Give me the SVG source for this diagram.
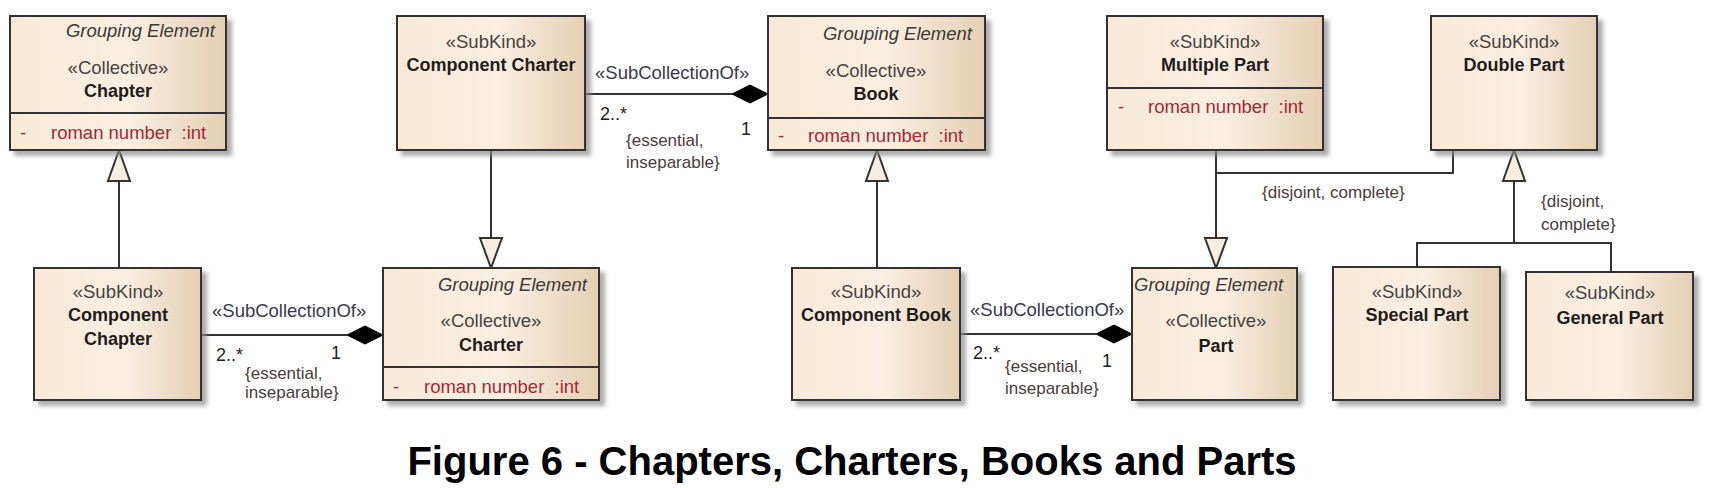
<svg xmlns="http://www.w3.org/2000/svg" width="1711" height="488" viewBox="0 0 1711 488">
<defs>
<linearGradient id="g" x1="0" y1="0" x2="1" y2="0">
<stop offset="0" stop-color="#f8ead7"/>
<stop offset="0.55" stop-color="#faefe1"/>
<stop offset="1" stop-color="#e4d0b3"/>
</linearGradient>
<filter id="sh" x="-10%" y="-10%" width="130%" height="130%">
<feDropShadow dx="5" dy="5" stdDeviation="2" flood-color="#8a8a8a" flood-opacity="0.7"/>
</filter>
</defs>
<style>
.box{fill:url(#g);stroke:#333;stroke-width:2;filter:url(#sh)}
.sep{stroke:#333;stroke-width:2}
text{font-family:'Liberation Sans',Arial,sans-serif}
.st{font-size:18.5px;fill:#444;text-anchor:middle}
.nm{font-size:18px;font-weight:bold;fill:#1e1e1e;text-anchor:middle}
.ge{font-size:18.5px;font-style:italic;fill:#3a3a3a}
.at{font-size:18.5px;fill:#a52834;white-space:pre}
.lbl{font-size:18.5px;fill:#3a3a4a}
.mul{font-size:18px;fill:#222}
.c{font-size:17px;fill:#4a3c3c}
.ln{stroke:#333;stroke-width:2;fill:none}
.tri{fill:#f6eee0;stroke:#333;stroke-width:2}
.dia{fill:#000;stroke:#000;stroke-width:1}
.cap{font-size:40px;font-weight:bold;fill:#000;text-anchor:middle}
</style>
<rect width="1711" height="488" fill="#fff"/>

<g id="connectors">
<!-- generalizations -->
<line class="ln" x1="119" y1="181" x2="119" y2="268"/>
<polygon class="tri" points="119,150 108,181 130,181"/>
<line class="ln" x1="491" y1="150" x2="491" y2="238"/>
<polygon class="tri" points="491,268 480,238 502,238"/>
<line class="ln" x1="877" y1="181" x2="877" y2="268"/>
<polygon class="tri" points="877,150 866,181 888,181"/>
<polyline class="ln" points="1453,150 1453,173 1216,173"/>
<line class="ln" x1="1216" y1="150" x2="1216" y2="238"/>
<polygon class="tri" points="1216,268 1205,238 1227,238"/>
<line class="ln" x1="1514" y1="181" x2="1514" y2="243"/>
<polyline class="ln" points="1417,267 1417,243 1611,243 1611,272"/>
<polygon class="tri" points="1514,150 1503,181 1525,181"/>
<!-- compositions -->
<line class="ln" x1="201" y1="335" x2="347" y2="335"/>
<polygon class="dia" points="383,335 365,326 347,335 365,344"/>
<line class="ln" x1="585" y1="94" x2="732" y2="94"/>
<polygon class="dia" points="768,94 750,85 732,94 750,103"/>
<line class="ln" x1="960" y1="334" x2="1096" y2="334"/>
<polygon class="dia" points="1132,334 1114,325 1096,334 1114,343"/>
<!-- labels -->
<text class="lbl" x="212" y="317">«SubCollectionOf»</text>
<text class="mul" x="216" y="361">2..*</text>
<text class="mul" x="331" y="359">1</text>
<text class="c" x="245" y="379">{essential,</text>
<text class="c" x="245" y="398">inseparable}</text>

<text class="lbl" x="595" y="79">«SubCollectionOf»</text>
<text class="mul" x="600" y="120">2..*</text>
<text class="mul" x="741" y="135">1</text>
<text class="c" x="626" y="146">{essential,</text>
<text class="c" x="626" y="168">inseparable}</text>

<text class="lbl" x="970" y="316">«SubCollectionOf»</text>
<text class="mul" x="973" y="359">2..*</text>
<text class="mul" x="1102" y="367">1</text>
<text class="c" x="1005" y="372">{essential,</text>
<text class="c" x="1005" y="394">inseparable}</text>

<text class="c" x="1262" y="198">{disjoint, complete}</text>
<text class="c" x="1541" y="207">{disjoint,</text>
<text class="c" x="1541" y="230">complete}</text>
</g>

<g id="chapter">
<rect class="box" x="10" y="16" width="216" height="134"/>
<line class="sep" x1="10" y1="113" x2="226" y2="113"/>
<text class="ge" x="215" y="37" text-anchor="end">Grouping Element</text>
<text class="st" x="118" y="74">«Collective»</text>
<text class="nm" x="118" y="97">Chapter</text>
<text class="at" x="20" y="139">-</text>
<text class="at" x="51" y="139">roman number  :int</text>
</g>

<g id="component-chapter">
<rect class="box" x="34" y="268" width="167" height="132"/>
<text class="st" x="118" y="298">«SubKind»</text>
<text class="nm" x="118" y="321">Component</text>
<text class="nm" x="118" y="345">Chapter</text>
</g>

<g id="charter">
<rect class="box" x="383" y="268" width="216" height="132"/>
<line class="sep" x1="383" y1="367" x2="599" y2="367"/>
<text class="ge" x="587" y="291" text-anchor="end">Grouping Element</text>
<text class="st" x="491" y="327">«Collective»</text>
<text class="nm" x="491" y="351">Charter</text>
<text class="at" x="393" y="393">-</text>
<text class="at" x="424" y="393">roman number  :int</text>
</g>

<g id="component-charter">
<rect class="box" x="397" y="16" width="188" height="134"/>
<text class="st" x="491" y="48">«SubKind»</text>
<text class="nm" x="491" y="71">Component Charter</text>
</g>

<g id="book">
<rect class="box" x="768" y="16" width="217" height="134"/>
<line class="sep" x1="768" y1="118" x2="985" y2="118"/>
<text class="ge" x="972" y="40" text-anchor="end">Grouping Element</text>
<text class="st" x="876" y="77">«Collective»</text>
<text class="nm" x="876" y="100">Book</text>
<text class="at" x="778" y="142">-</text>
<text class="at" x="808" y="142">roman number  :int</text>
</g>

<g id="component-book">
<rect class="box" x="792" y="268" width="168" height="132"/>
<text class="st" x="876" y="298">«SubKind»</text>
<text class="nm" x="876" y="321">Component Book</text>
</g>

<g id="part">
<rect class="box" x="1132" y="268" width="165" height="132"/>
<text class="ge" x="1134" y="291">Grouping Element</text>
<text class="st" x="1216" y="327">«Collective»</text>
<text class="nm" x="1216" y="352">Part</text>
</g>

<g id="multiple-part">
<rect class="box" x="1107" y="16" width="216" height="134"/>
<line class="sep" x1="1107" y1="88" x2="1323" y2="88"/>
<text class="st" x="1215" y="48">«SubKind»</text>
<text class="nm" x="1215" y="71">Multiple Part</text>
<text class="at" x="1118" y="113">-</text>
<text class="at" x="1148" y="113">roman number  :int</text>
</g>

<g id="double-part">
<rect class="box" x="1431" y="16" width="166" height="134"/>
<text class="st" x="1514" y="48">«SubKind»</text>
<text class="nm" x="1514" y="71">Double Part</text>
</g>

<g id="special-part">
<rect class="box" x="1333" y="267" width="167" height="133"/>
<text class="st" x="1417" y="298">«SubKind»</text>
<text class="nm" x="1417" y="321">Special Part</text>
</g>

<g id="general-part">
<rect class="box" x="1526" y="272" width="167" height="128"/>
<text class="st" x="1610" y="299">«SubKind»</text>
<text class="nm" x="1610" y="324">General Part</text>
</g>

<text class="cap" x="852" y="475">Figure 6 - Chapters, Charters, Books and Parts</text>
</svg>
